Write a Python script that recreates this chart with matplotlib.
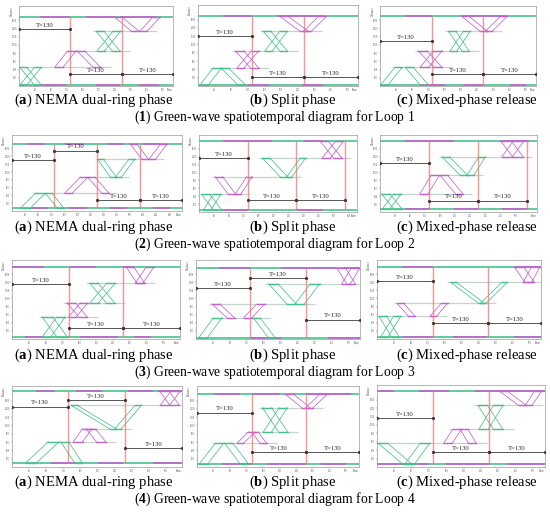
import matplotlib
matplotlib.use('Agg')
import matplotlib.pyplot as plt
import numpy as np

plt.rcParams['font.family'] = ['Liberation Serif', 'DejaVu Serif']
plt.rcParams['mathtext.fontset'] = 'custom'
plt.rcParams['mathtext.rm'] = 'Liberation Serif'
plt.rcParams['mathtext.bf'] = 'Liberation Serif:bold'

GREEN = '#45c28c'
MAGENTA = '#c462d2'
RED = '#ff6e6e'
LEVEL_GREY = '#c4d6cc'

# ---------------- data (time in s, distance in m) ----------------
# bands: (t_start, d_start, t_end, d_end, band width, colour g/m)
# arrows: (t0, t1, distance)

# Loop 1
tmax_1a = 385
levels_1a = [32, 456, 856, 1336, 1680]
red_1a = [128, 258]
arrows_1a = [(0, 128, 1392), (128, 258, 288), (258, 385, 288)]
bands_1a = [(3, 32, 39, 456, 17, 'g'), (2, 456, 38, 32, 17, 'g'),
            (89, 456, 122, 856, 21, 'm'), (145, 856, 185, 456, 19, 'm'),
            (195, 856, 235, 1336, 19, 'g'), (193, 1336, 233, 856, 19, 'g'),
            (239, 1680, 281, 1336, 19, 'm'), (302, 1336, 335, 1680, 18, 'm')]
top_mag_1a = [(52, 127), (168, 240), (252, 343)]
bot_mag_1a = [(56, 118), (193, 252), (300, 350)]

tmax_1b = 385
levels_1b = [16, 427, 845, 1320, 1675]
red_1b = [129, 256]
arrows_1b = [(0, 129, 1200), (129, 256, 213), (256, 385, 213)]
bands_1b = [(4, 16, 36, 427, 20, 'g'), (56, 427, 97, 16, 18, 'g'),
            (93, 427, 129, 845, 17, 'm'), (90, 845, 127, 427, 20, 'm'),
            (161, 845, 197, 1320, 18, 'g'), (157, 1320, 197, 845, 18, 'g'),
            (197, 1675, 245, 1320, 20, 'm'), (254, 1320, 290, 1675, 19, 'm')]
top_mag_1b = [(60, 129), (190, 300)]
bot_mag_1b = [(121, 170), (250, 300)]

tmax_1c = 385
levels_1c = [32, 456, 856, 1336, 1696]
red_1c = [128, 255]
arrows_1c = [(0, 128, 1096), (128, 255, 296), (255, 385, 296)]
bands_1c = [(2, 32, 37, 456, 18, 'g'), (62, 456, 99, 32, 20, 'g'),
            (99, 456, 132, 856, 21, 'm'), (95, 856, 132, 456, 21, 'm'),
            (173, 856, 206, 1336, 17, 'g'), (169, 1336, 202, 856, 18, 'g'),
            (202, 1696, 247, 1336, 18, 'm'), (260, 1336, 297, 1696, 17, 'm')]
top_mag_1c = [(62, 128), (200, 310)]
bot_mag_1c = [(100, 160), (205, 255), (320, 360)]

# Loop 2
tmax_2a = 518
levels_2a = [85, 453, 864, 1325, 1710]
red_2a = [129, 259, 389]
arrows_2a = [(0, 129, 1308), (129, 259, 1548), (259, 389, 282), (389, 518, 282)]
bands_2a = [(27, 85, 71, 453, 30, 'g'), (102, 453, 137, 85, 20, 'g'),
            (160, 453, 208, 864, 23, 'm'), (231, 864, 274, 453, 22, 'm'),
            (261, 1325, 300, 864, 18, 'g'), (315, 864, 356, 1325, 18, 'g'),
            (361, 1710, 396, 1325, 20, 'm'), (417, 1325, 452, 1710, 20, 'm')]
top_mag_2a = [(46, 100), (160, 220), (290, 340), (400, 450)]
bot_mag_2a = [(60, 110), (170, 230), (300, 350), (430, 480)]

tmax_2b = 421
levels_2b = [57, 447, 894, 1365, 1787]
red_2b = [130, 259, 390]
arrows_2b = [(0, 130, 1357), (130, 259, 300), (259, 390, 300)]
bands_2b = [(12, 57, 38, 447, 20, 'g'), (7, 447, 38, 57, 22, 'g'),
            (43, 894, 78, 447, 20, 'm'), (96, 447, 127, 894, 15, 'm'),
            (169, 1365, 216, 894, 20, 'g'), (234, 894, 270, 1365, 14, 'g'),
            (328, 1365, 363, 1787, 22, 'm'), (323, 1787, 359, 1365, 22, 'm')]
top_mag_2b = [(65, 194), (280, 330)]
bot_mag_2b = [(65, 130), (260, 330)]

tmax_2c = 417
levels_2c = [80, 464, 928, 1400, 1808]
red_2c = [130, 260, 390]
arrows_2c = [(0, 130, 1248), (130, 260, 288), (260, 390, 288)]
bands_2c = [(6, 80, 37, 464, 20, 'g'), (4, 464, 36, 80, 22, 'g'),
            (106, 464, 136, 928, 22, 'm'), (160, 928, 200, 464, 20, 'm'),
            (164, 1400, 213, 928, 20, 'g'), (231, 928, 262, 1400, 18, 'g'),
            (324, 1400, 355, 1808, 28, 'm'), (320, 1808, 352, 1400, 28, 'm')]
top_mag_2c = [(67, 196), (325, 395)]
bot_mag_2c = [(67, 130), (196, 260), (325, 390)]

# Loop 3
tmax_3a = 398
levels_3a = [41, 544, 894, 1381, 1788]
red_3a = [134, 264]
arrows_3a = [(0, 134, 1357), (134, 264, 268), (264, 398, 268)]
bands_3a = [(71, 41, 106, 544, 20, 'g'), (71, 544, 107, 41, 25, 'g'),
            (134, 544, 162, 894, 18, 'm'), (130, 894, 158, 544, 20, 'm'),
            (185, 894, 225, 1381, 20, 'g'), (184, 1381, 223, 894, 20, 'g'),
            (270, 1788, 296, 1381, 18, 'm'), (292, 1381, 319, 1788, 18, 'm')]
top_mag_3a = [(0, 75), (134, 200), (264, 290)]
bot_mag_3a = [(30, 75), (160, 250), (290, 330)]

tmax_3b = 386
levels_3b = [24, 520, 864, 1360, 1760]
red_3b = [128, 258]
arrows_3b = [(0, 128, 1264), (128, 258, 1504), (258, 386, 480)]
bands_3b = [(6, 24, 41, 520, 20, 'g'), (135, 520, 171, 24, 16, 'g'),
            (38, 864, 73, 520, 18, 'm'), (112, 520, 143, 864, 19, 'm'),
            (171, 1360, 214, 864, 22, 'g'), (233, 864, 269, 1360, 22, 'g'),
            (331, 1760, 355, 1360, 20, 'm'), (343, 1360, 366, 1760, 20, 'm')]
top_mag_3b = [(54, 128), (200, 330), (345, 386)]
bot_mag_3b = [(130, 200), (311, 386)]

tmax_3c = 386
levels_3c = [40, 560, 880, 1400, 1784]
red_3c = [131, 261]
arrows_3c = [(0, 131, 1424), (131, 261, 400), (261, 386, 400)]
bands_3c = [(8, 40, 39, 560, 17, 'g'), (5, 560, 35, 40, 18, 'g'),
            (47, 880, 74, 560, 16, 'm'), (125, 560, 151, 880, 15, 'm'),
            (173, 1400, 239, 880, 14, 'g'), (243, 880, 294, 1400, 13, 'g'),
            (323, 1784, 348, 1400, 22, 'm'), (344, 1400, 364, 1784, 20, 'm')]
top_mag_3c = [(59, 131), (323, 386)]
bot_mag_3c = [(59, 131), (180, 260), (323, 386)]

# Loop 4
tmax_4a = 397
levels_4a = [101, 608, 920, 1482, 1841]
red_4a = [130, 263]
arrows_4a = [(0, 130, 1451), (130, 263, 1607), (263, 397, 452)]
bands_4a = [(32, 101, 85, 608, 25, 'g'), (114, 608, 146, 101, 18, 'g'),
            (143, 608, 165, 920, 22, 'm'), (173, 920, 197, 608, 22, 'm'),
            (138, 1482, 228, 920, 15, 'g'), (240, 920, 287, 1482, 15, 'g'),
            (344, 1841, 369, 1482, 22, 'm'), (346, 1482, 372, 1841, 22, 'm')]
top_mag_4a = [(56, 100), (150, 210), (270, 330), (340, 397)]
bot_mag_4a = [(90, 150), (200, 260), (330, 397)]

tmax_4b = 391
levels_4b = [78, 569, 842, 1427, 1755]
red_4b = [132, 262]
arrows_4b = [(0, 132, 1310), (132, 262, 351), (262, 391, 351)]
bands_4b = [(6, 78, 44, 569, 20, 'g'), (67, 569, 104, 78, 20, 'g'),
            (96, 569, 124, 842, 16, 'm'), (132, 842, 152, 569, 16, 'm'),
            (160, 842, 198, 1427, 20, 'g'), (158, 1427, 197, 842, 22, 'g'),
            (213, 1755, 253, 1427, 20, 'm'), (262, 1427, 297, 1755, 18, 'm')]
top_mag_4b = [(40, 104), (132, 200), (262, 372)]
bot_mag_4b = [(60, 132), (170, 262), (300, 360)]

tmax_4c = 388
levels_4c = [78, 569, 897, 1466, 1817]
red_4c = [129, 259]
arrows_4c = [(0, 129, 1154), (129, 259, 359), (259, 388, 359)]
bands_4c = [(2, 569, 58, 78, 22, 'g'), (65, 78, 100, 569, 22, 'g'),
            (154, 569, 175, 897, 20, 'm'), (192, 897, 211, 569, 18, 'm'),
            (235, 897, 269, 1466, 22, 'g'), (233, 1466, 269, 897, 22, 'g'),
            (281, 1817, 327, 1466, 18, 'm'), (342, 1466, 365, 1817, 16, 'm')]
top_mag_4c = [(0, 40), (96, 166), (227, 388)]
bot_mag_4c = [(0, 120), (160, 260), (300, 388)]

panel_titles = ['NEMA dual-ring phase', 'Split phase', 'Mixed-phase release']
panel_letters = ['a', 'b', 'c']
loop_names = ['1', '2', '3', '4']

# ---------------- layout (pixels: left, top, right, bottom) ----------------
W, H = 550, 513
boxes = [
    [(19, 6, 173, 86), (198, 5, 358, 86), (380, 6, 536, 86)],
    [(12, 135, 182, 211), (199, 135, 357, 212), (380, 135, 537, 212)],
    [(12, 260, 180, 339), (196, 260, 360, 339), (377, 260, 541, 339)],
    [(12, 386, 182, 467), (197, 386, 359, 467), (377, 385, 545, 467)],
]
caption_y = [100, 227, 355, 482]
caption_x = [94, 293, 467]

panels = [
    [(tmax_1a, levels_1a, red_1a, arrows_1a, bands_1a, top_mag_1a, bot_mag_1a),
     (tmax_1b, levels_1b, red_1b, arrows_1b, bands_1b, top_mag_1b, bot_mag_1b),
     (tmax_1c, levels_1c, red_1c, arrows_1c, bands_1c, top_mag_1c, bot_mag_1c)],
    [(tmax_2a, levels_2a, red_2a, arrows_2a, bands_2a, top_mag_2a, bot_mag_2a),
     (tmax_2b, levels_2b, red_2b, arrows_2b, bands_2b, top_mag_2b, bot_mag_2b),
     (tmax_2c, levels_2c, red_2c, arrows_2c, bands_2c, top_mag_2c, bot_mag_2c)],
    [(tmax_3a, levels_3a, red_3a, arrows_3a, bands_3a, top_mag_3a, bot_mag_3a),
     (tmax_3b, levels_3b, red_3b, arrows_3b, bands_3b, top_mag_3b, bot_mag_3b),
     (tmax_3c, levels_3c, red_3c, arrows_3c, bands_3c, top_mag_3c, bot_mag_3c)],
    [(tmax_4a, levels_4a, red_4a, arrows_4a, bands_4a, top_mag_4a, bot_mag_4a),
     (tmax_4b, levels_4b, red_4b, arrows_4b, bands_4b, top_mag_4b, bot_mag_4b),
     (tmax_4c, levels_4c, red_4c, arrows_4c, bands_4c, top_mag_4c, bot_mag_4c)],
]


def draw_panel(ax, tmax, levels, reds, arrows, bands, top_mag, bot_mag):
    ax.set_xlim(0, tmax)
    ax.set_ylim(0, 1950)

    # intermediate intersections: line across the extent of the bands touching it
    for lev in levels[1:-1]:
        ts = []
        for ta, da, tb, db, w, c in bands:
            if da == lev:
                ts += [ta, ta + w]
            if db == lev:
                ts += [tb, tb + w]
        if ts:
            ax.hlines(lev, min(ts) - 8, max(ts) + 25, color=LEVEL_GREY, lw=0.9, zorder=1)

    # first and last intersection, signal state along time
    for lev, mags in ((levels[0], bot_mag), (levels[-1], top_mag)):
        ax.hlines(lev, 0, tmax, color=GREEN, lw=1.2, zorder=2)
        for a, b in mags:
            ax.hlines(lev, a, b, color=MAGENTA, lw=1.2, zorder=2)

    for ta, da, tb, db, w, c in bands:
        col = GREEN if c == 'g' else MAGENTA
        ax.plot([ta, tb], [da, db], color=col, lw=0.55, zorder=3)
        ax.plot([ta + w, tb + w], [da, db], color=col, lw=0.55, zorder=3)
        ax.plot([ta, ta + w], [da, da], color=col, lw=1.0, zorder=3)
        ax.plot([tb, tb + w], [db, db], color=col, lw=1.0, zorder=3)

    for r in reds:
        ax.vlines(r, levels[0], levels[-1], color=RED, lw=1.0, alpha=0.75, zorder=4)

    for t0, t1, d in arrows:
        ax.plot([t0, t1], [d, d], color='#3a3a3a', lw=0.6, marker='o', ms=1.3, zorder=5)
        ax.text((t0 + t1) / 2, d + 30, 'T=130', ha='center', va='bottom',
                fontsize=4.8, color='#222222', zorder=5)

    ax.set_xticks(np.arange(40, tmax - 20, 40))
    ax.set_yticks(np.arange(200, 1800, 200))
    ax.tick_params(labelsize=1.8, length=1, width=0.3, pad=0.5, colors='#555555')
    for s in ax.spines.values():
        s.set_color('#9a9a9a')
        s.set_linewidth(0.5)
    ax.text(-0.035, 1.0, 'Distance', rotation=90, transform=ax.transAxes,
            fontsize=2.0, ha='right', va='top', color='#555555')
    ax.text(1.0, -0.025, 'Time', transform=ax.transAxes,
            fontsize=2.0, ha='right', va='top', color='#555555')


fig = plt.figure(figsize=(W / 100, H / 100), dpi=100)

for i in range(4):
    for j in range(3):
        l, t, r, b = boxes[i][j]
        ax = fig.add_axes([l / W, 1 - b / H, (r - l) / W, (b - t) / H])
        draw_panel(ax, *panels[i][j])
        fig.text(caption_x[j] / W, 1 - caption_y[i] / H,
                 r'($\mathbf{' + panel_letters[j] + r'}$) ' + panel_titles[j],
                 ha='center', va='center', fontsize=10.5)
    fig.text(275 / W, 1 - (caption_y[i] + 17) / H,
             r'($\mathbf{' + loop_names[i] + r'}$) Green-wave spatiotemporal diagram for Loop '
             + loop_names[i], ha='center', va='center', fontsize=9.8)

fig.savefig('out.png', dpi=100)
